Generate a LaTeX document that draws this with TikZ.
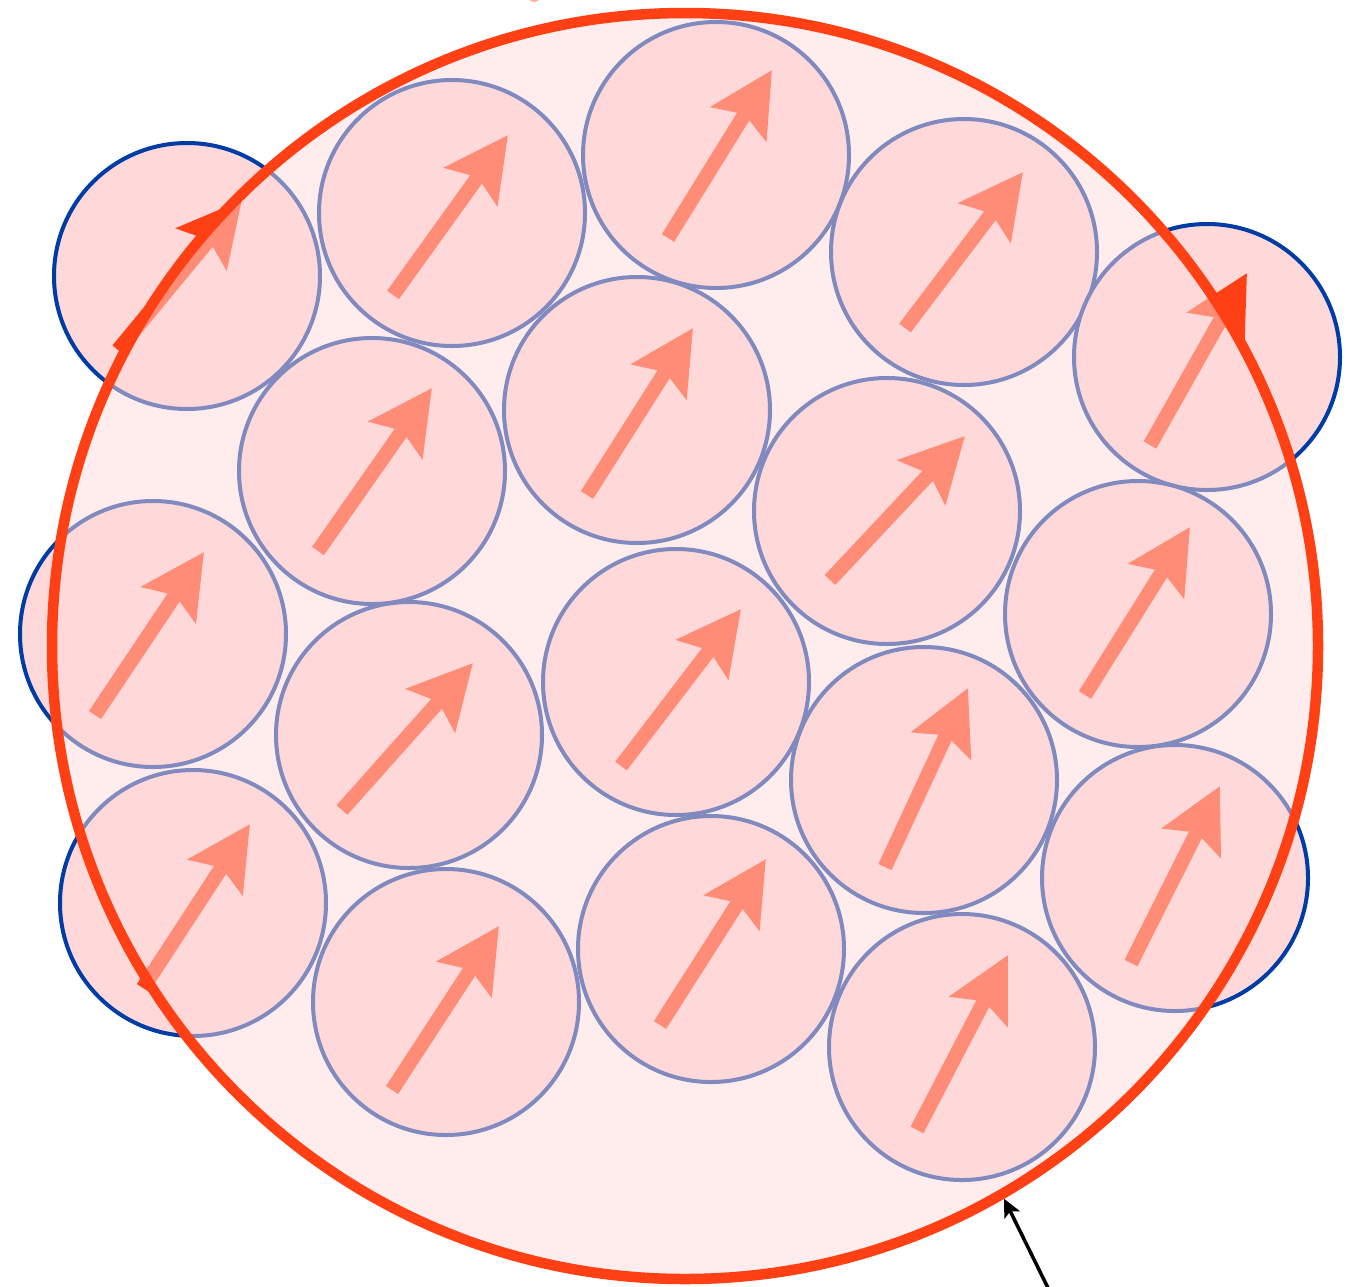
\documentclass[tikz,border=0pt]{standalone}
\usetikzlibrary{arrows.meta}
\definecolor{spinred}{RGB}{255,64,20}
\definecolor{cellfill}{RGB}{255,217,217}
\definecolor{cellblue}{RGB}{0,60,165}
\tikzset{
  cell/.style={circle, draw=cellblue, fill=cellfill, line width=4pt, inner sep=0pt, minimum size=266pt},
  spin/.style={draw=spinred, line width=14.5pt, -{Stealth[length=63pt,width=64pt,inset=11pt]}},
  bigring/.style={circle, inner sep=0pt, minimum size=1266pt},
  pointer/.style={draw=black, line width=3.5pt, -{Stealth[length=18pt,width=17pt,inset=4pt]}}
}
\begin{document}
\begin{tikzpicture}[x=1pt,y=-1pt]
\useasboundingbox (0,0) rectangle (1356,1286);
% cells
\node[cell] (c1)  at (187,276) {};
\node[cell] (c2)  at (452,213) {};
\node[cell] (c3)  at (716,155) {};
\node[cell] (c4)  at (964,252) {};
\node[cell] (c5)  at (1207,357) {};
\node[cell] (c6)  at (372,471) {};
\node[cell] (c7)  at (637,410) {};
\node[cell] (c8)  at (887,511) {};
\node[cell] (c9)  at (1138,614) {};
\node[cell] (c10) at (153,634) {};
\node[cell] (c11) at (409,735) {};
\node[cell] (c12) at (676,682) {};
\node[cell] (c13) at (924,780) {};
\node[cell] (c14) at (1175,878) {};
\node[cell] (c15) at (193,903) {};
\node[cell] (c16) at (446,1002) {};
\node[cell] (c17) at (711,949) {};
\node[cell] (c18) at (962,1047) {};
% spins
\draw[spin] (118,350) -- (242,200);
\draw[spin] (393,295) -- (508,135);
\draw[spin] (668,238) -- (772,70);
\draw[spin] (905,328) -- (1023,172);
\draw[spin] (1150,445) -- (1247,273);
\draw[spin] (318,551) -- (432,388);
\draw[spin] (587,495) -- (693,328);
\draw[spin] (830,580) -- (965,436);
\draw[spin] (1085,695) -- (1190,527);
\draw[spin] (95,715) -- (204,552);
\draw[spin] (342,810) -- (473,663);
\draw[spin] (621,766) -- (741,609);
\draw[spin] (885,867) -- (968,688);
\draw[spin] (1131,963) -- (1220,786);
\draw[spin] (143,988) -- (250,824);
\draw[spin] (392,1090) -- (499,926);
\draw[spin] (660,1025) -- (766,859);
\draw[spin] (917,1130) -- (1008,955);
\fill[spinred!40] (534,-4) circle (6);
% ring
\node[bigring, fill=cellfill, fill opacity=0.5] (veil) at (685,646) {};
\node[bigring, draw=spinred, line width=10.5pt] (big) at (685,646) {};
% pointer
\coordinate (ann) at (1050,1292);
\draw[pointer] (ann) -- (big.300.9);
\end{tikzpicture}
\end{document}
